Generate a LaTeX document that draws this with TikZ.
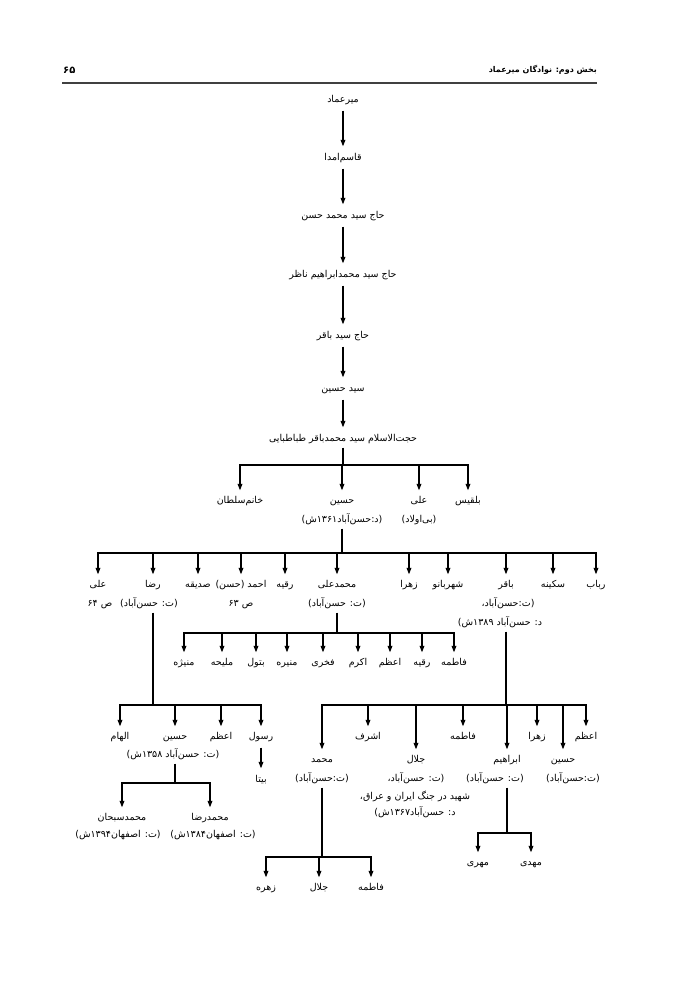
\documentclass[tikz,border=0pt]{standalone}
\usepackage{fontspec}
\usetikzlibrary{arrows.meta}
\newfontfamily\arabicfont[Script=Arabic]{DejaVu Sans}
\TeXXeTstate=1
\newcommand\fa[1]{{\arabicfont\beginR #1\endR}}
\newcommand\fsz{\fontsize{9.5}{11}\selectfont}
\begin{document}
\begin{tikzpicture}[x=1pt,y=-1pt,
  lbl/.style={font=\fsz, text height=7pt, text depth=2pt, inner sep=1pt},
  arr/.style={-{Triangle[length=6.5pt,width=4.8pt]}, line width=1.1pt, shorten >=5pt},
  chain/.style={-{Triangle[length=6.5pt,width=4.8pt]}, line width=1.1pt, shorten >=6pt, shorten <=5pt},
  ln/.style={line width=1.1pt, line cap=rect},
  up/.style={line width=1.1pt, shorten <=3pt}]
\useasboundingbox (0,0) rectangle (700,989);
\fill[white] (0,0) rectangle (700,989);
% header
\node[anchor=east, font=\fontsize{8}{10}\selectfont\bfseries, inner sep=0pt] (title) at (597,70) {\fa{بخش دوم: نوادگان میرعماد}};
\node[anchor=west, font=\fontsize{10}{12}\selectfont\bfseries, inner sep=0pt] (page) at (63,70) {{\arabicfont ۶۵}};
\coordinate (rl) at (62,83); \coordinate (rr) at (597,83);
\draw[line width=1.6pt, black!75] (rl) -- (rr);
% chain
\node[lbl] (n1) at (343,100) {\fa{میرعماد}};
\node[lbl] (n2) at (343,158) {\fa{قاسم‌امدا}};
\node[lbl] (n3) at (343,216) {\fa{حاج سید محمد حسن}};
\node[lbl] (n4) at (343,275) {\fa{حاج سید محمدابراهیم ناظر}};
\node[lbl] (n5) at (343,336) {\fa{حاج سید باقر}};
\node[lbl] (n6) at (343,389) {\fa{سید حسین}};
\node[lbl] (n7) at (343,439) {\fa{حجت‌الاسلام سید محمدباقر طباطبایی}};
\draw[chain] (n1) -- (n2);
\draw[chain] (n2) -- (n3);
\draw[chain] (n3) -- (n4);
\draw[chain] (n4) -- (n5);
\draw[chain] (n5) -- (n6);
\draw[chain] (n6) -- (n7);
% level 2
\coordinate (barA) at (343,465);
\node[lbl] (c1) at (240,501) {\fa{خانم‌سلطان}};
\node[lbl] (c2) at (342,501) {\fa{حسین}};
\node[lbl] (c2b) at (342,520) {\fa{(د:حسن‌آباد۱۳۶۱ش)}};
\node[lbl] (c3) at (419,501) {\fa{علی}};
\node[lbl] (c3b) at (419,520) {\fa{(بی‌اولاد)}};
\node[lbl] (c4) at (468,501) {\fa{بلقیس}};
\draw[up] (n7.south) -- (n7|-barA);
\draw[ln] (c1|-barA) -- (c4|-barA);
\foreach \c in {c1,c2,c3,c4} \draw[arr] (\c|-barA) -- (\c.north);
% level 3
\coordinate (barB) at (342,553);
\node[lbl] (d1) at (98,585) {\fa{علی}};
\node[lbl] (d1b) at (100,604) {\fa{ص ۶۴}};
\node[lbl] (d2) at (153,585) {\fa{رضا}};
\node[lbl] (d2b) at (149,604) {\fa{(ت: حسن‌آباد)}};
\node[lbl] (d3) at (198,585) {\fa{صدیقه}};
\node[lbl] (d4) at (241,585) {\fa{احمد (حسن)}};
\node[lbl] (d4b) at (241,604) {\fa{ص ۶۳}};
\node[lbl] (d5) at (285,585) {\fa{رقیه}};
\node[lbl] (d6) at (337,585) {\fa{محمدعلی}};
\node[lbl] (d6b) at (337,604) {\fa{(ت: حسن‌آباد)}};
\node[lbl] (d7) at (409,585) {\fa{زهرا}};
\node[lbl] (d8) at (448,585) {\fa{شهربانو}};
\node[lbl] (d9) at (506,585) {\fa{باقر}};
\node[lbl] (d9b) at (508,604) {\fa{(ت:حسن‌آباد،}};
\node[lbl] (d9c) at (500,623) {\fa{د: حسن‌آباد ۱۳۸۹ش)}};
\node[lbl] (d10) at (553,585) {\fa{سکینه}};
\node[lbl] (d11) at (596,585) {\fa{رباب}};
\draw[up] (c2b.south) -- (c2|-barB);
\draw[ln] (d1|-barB) -- (d11|-barB);
\foreach \c in {d1,d2,d3,d4,d5,d6,d7,d8,d9,d10,d11} \draw[arr] (\c|-barB) -- (\c.north);
% children of mohammadali
\coordinate (barC) at (337,633);
\node[lbl] (e1) at (184,663) {\fa{منیژه}};
\node[lbl] (e2) at (222,663) {\fa{ملیحه}};
\node[lbl] (e3) at (256,663) {\fa{بتول}};
\node[lbl] (e4) at (287,663) {\fa{منیره}};
\node[lbl] (e5) at (323,663) {\fa{فخری}};
\node[lbl] (e6) at (358,663) {\fa{اکرم}};
\node[lbl] (e7) at (390,663) {\fa{اعظم}};
\node[lbl] (e8) at (422,663) {\fa{رقیه}};
\node[lbl] (e9) at (454,663) {\fa{فاطمه}};
\draw[up] (d6b.south) -- (d6|-barC);
\draw[ln] (e1|-barC) -- (e9|-barC);
\foreach \c in {e1,e2,e3,e4,e5,e6,e7,e8,e9} \draw[arr] (\c|-barC) -- (\c.north);
% children of reza
\coordinate (barD) at (153,705);
\node[lbl] (f1) at (120,737) {\fa{الهام}};
\node[lbl] (f2) at (175,737) {\fa{حسین}};
\node[lbl] (f2b) at (173,755) {\fa{(ت: حسن‌آباد ۱۳۵۸ش)}};
\node[lbl] (f3) at (221,737) {\fa{اعظم}};
\node[lbl] (f4) at (261,737) {\fa{رسول}};
\node[lbl] (g1) at (261,780) {\fa{بیتا}};
\draw[up] (d2b.south-|d2) -- (d2|-barD);
\draw[ln] (f1|-barD) -- (f4|-barD);
\foreach \c in {f1,f2,f3,f4} \draw[arr] (\c|-barD) -- (\c.north);
\draw[chain] (f4) -- (g1);
% children of hosein (reza)
\coordinate (barE) at (175,783);
\node[lbl] (h1) at (122,818) {\fa{محمدسبحان}};
\node[lbl] (h1b) at (118,835) {\fa{(ت: اصفهان۱۳۹۴ش)}};
\node[lbl] (h2) at (210,818) {\fa{محمدرضا}};
\node[lbl] (h2b) at (213,835) {\fa{(ت: اصفهان۱۳۸۴ش)}};
\draw[up] (f2b.south-|f2) -- (f2|-barE);
\draw[ln] (h1|-barE) -- (h2|-barE);
\foreach \c in {h1,h2} \draw[arr] (\c|-barE) -- (\c.north);
% children of bagher
\coordinate (barF) at (506,705);
\node[lbl] (i1) at (322,760) {\fa{محمد}};
\node[lbl] (i1b) at (322,779) {\fa{(ت:حسن‌آباد)}};
\node[lbl] (i2) at (368,737) {\fa{اشرف}};
\node[lbl] (i3) at (416,760) {\fa{جلال}};
\node[lbl] (i3b) at (416,779) {\fa{(ت: حسن‌آباد،}};
\node[lbl] (i3c) at (415,797) {\fa{شهید در جنگ ایران و عراق،}};
\node[lbl] (i3d) at (415,813) {\fa{د: حسن‌آباد۱۳۶۷ش)}};
\node[lbl] (i4) at (463,737) {\fa{فاطمه}};
\node[lbl] (i5) at (507,760) {\fa{ابراهیم}};
\node[lbl] (i5b) at (495,779) {\fa{(ت: حسن‌آباد)}};
\node[lbl] (i6) at (537,737) {\fa{زهرا}};
\node[lbl] (i7) at (563,760) {\fa{حسین}};
\node[lbl] (i7b) at (573,779) {\fa{(ت:حسن‌آباد)}};
\node[lbl] (i8) at (586,737) {\fa{اعظم}};
\draw[up] (d9c.south-|d9) -- (d9|-barF);
\draw[ln] (i1|-barF) -- (i8|-barF);
\foreach \c in {i1,i2,i3,i4,i5,i6,i7,i8} \draw[arr] (\c|-barF) -- (\c.north);
% children of mohammad
\coordinate (barG) at (322,857);
\node[lbl] (j1) at (266,888) {\fa{زهره}};
\node[lbl] (j2) at (319,888) {\fa{جلال}};
\node[lbl] (j3) at (371,888) {\fa{فاطمه}};
\draw[up] (i1b.south) -- (i1|-barG);
\draw[ln] (j1|-barG) -- (j3|-barG);
\foreach \c in {j1,j2,j3} \draw[arr] (\c|-barG) -- (\c.north);
% children of ebrahim
\coordinate (barH) at (507,833);
\node[lbl] (k1) at (478,863) {\fa{مهری}};
\node[lbl] (k2) at (531,863) {\fa{مهدی}};
\draw[up] (i5b.south-|i5) -- (i5|-barH);
\draw[ln] (k1|-barH) -- (k2|-barH);
\foreach \c in {k1,k2} \draw[arr] (\c|-barH) -- (\c.north);
\end{tikzpicture}
\end{document}
